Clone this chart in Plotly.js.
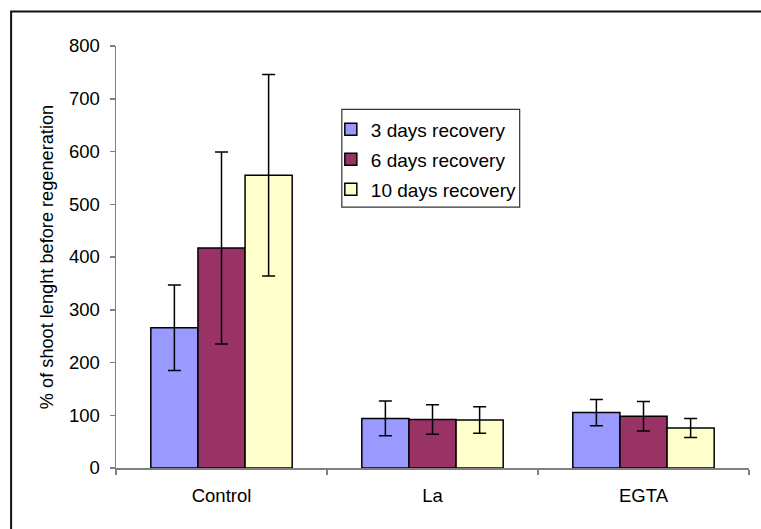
<!DOCTYPE html>
<html>
<head>
<meta charset="utf-8">
<script src="https://cdn.plot.ly/plotly-3.0.1.min.js"></script>
<style>
  html, body { margin: 0; padding: 0; background: #fff; }
  #chart { width: 761px; height: 529px; }
</style>
</head>
<body>
<div id="chart"></div>
<script>
const categories = ["Control", "La", "EGTA"];
const seriesNames = ["3 days recovery", "6 days recovery", "10 days recovery"];
const days3 = [266, 94, 105];
const days3Err = [81, 33, 25];
const days6 = [417, 92, 98];
const days6Err = [182, 28, 28];
const days10 = [555, 91, 76];
const days10Err = [191, 25, 18];
const yTicks = [0, 100, 200, 300, 400, 500, 600, 700, 800];

const colors = ["#9999FF", "#993366", "#FFFFCC"];
const values = [days3, days6, days10];
const errors = [days3Err, days6Err, days10Err];
const FONT = "Liberation Sans, Arial, sans-serif";

const traces = values.map((v, i) => ({
  type: "bar",
  name: seriesNames[i],
  legendgroup: "g" + i,
  x: categories,
  y: v,
  marker: { color: colors[i], line: { color: "#000", width: 1.5 } },
  error_y: { type: "data", array: errors[i], visible: true, color: "#000", thickness: 1.5, width: 6.5 },
  hoverinfo: "x+y+name"
}));

const layout = {
  width: 761,
  height: 529,
  margin: { l: 116, r: 11.5, t: 45.5, b: 60.7 },
  paper_bgcolor: "#fff",
  plot_bgcolor: "#fff",
  font: { family: FONT, size: 18.5, color: "#000" },
  barmode: "group",
  bargap: 0.33,
  bargroupgap: 0,
  showlegend: true,
  legend: {
    x: (331 - 116) / 633.5, y: (468.3 - 110) / 422.8, xanchor: "left", yanchor: "top",
    bgcolor: "rgba(0,0,0,0)", borderwidth: 0,
    font: { family: FONT, size: 19, color: "#000" },
    traceorder: "grouped", tracegroupgap: 2.3
  },
  xaxis: {
    type: "category",
    showline: true, linecolor: "#808080", linewidth: 1.5,
    ticks: "outside", tickson: "boundaries", ticklen: 5, tickcolor: "#808080", tickwidth: 1.5,
    showgrid: false, zeroline: false,
    ticklabelstandoff: 10,
    tickfont: { family: FONT, size: 18.5, color: "#000" }
  },
  yaxis: {
    range: [0, 800],
    tickvals: yTicks,
    ticktext: yTicks.map(String),
    showline: true, linecolor: "#808080", linewidth: 1.5,
    ticks: "outside", ticklen: 5, tickcolor: "#808080", tickwidth: 1.5,
    showgrid: false, zeroline: false,
    ticklabelstandoff: 6,
    tickfont: { family: FONT, size: 18.5, color: "#000" },
    title: { text: "% of shoot lenght before regeneration", font: { family: FONT, size: 18.2, color: "#000" }, standoff: 10 }
  },
  shapes: [
    {
      type: "rect", xref: "paper", yref: "paper",
      x0: -0.1657, x1: 1.05, y0: -0.3, y1: 1.0816,
      line: { color: "#111", width: 2 }, fillcolor: "rgba(0,0,0,0)", layer: "above"
    },
    {
      type: "rect", xref: "paper", yref: "paper",
      x0: (342 - 116) / 633.5, x1: (520 - 116) / 633.5,
      y0: (468.3 - 207) / 422.8, y1: (468.3 - 109) / 422.8,
      line: { color: "#333", width: 1.2 }, fillcolor: "#fff", layer: "above"
    }
  ]
};

Plotly.newPlot("chart", traces, layout, { displayModeBar: false, staticPlot: true });
</script>
</body>
</html>
